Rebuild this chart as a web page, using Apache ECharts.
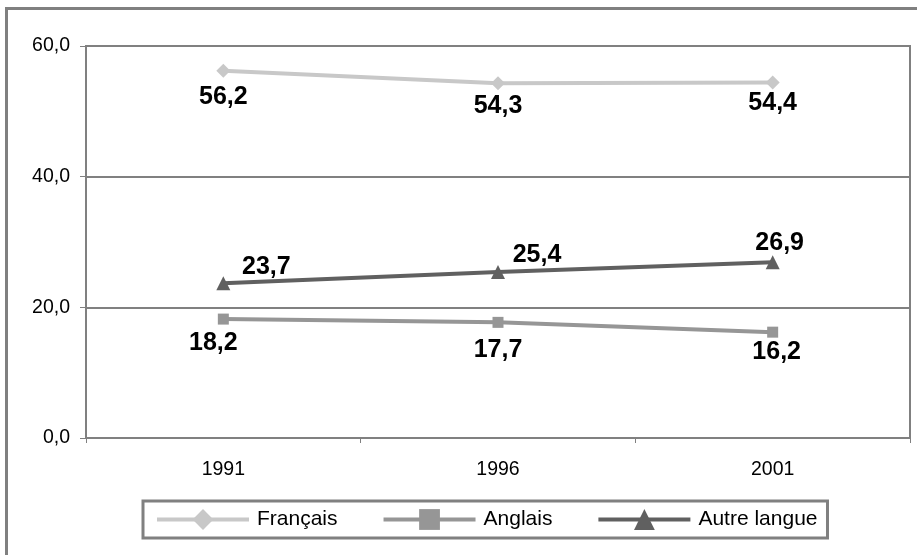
<!DOCTYPE html>
<html>
<head>
<meta charset="utf-8">
<script src="https://cdn.jsdelivr.net/npm/echarts@6/dist/echarts.min.js"></script>
<style>
  html, body { margin: 0; padding: 0; background: #ffffff; }
  #chart { width: 917px; height: 555px; }
</style>
</head>
<body>
<div id="chart"></div>
<script>
// Census years and share (%) of each language group
const years = ['1991', '1996', '2001'];
const francais = [56.2, 54.3, 54.4];
const anglais = [18.2, 17.7, 16.2];
const autreLangue = [23.7, 25.4, 26.9];
const seriesNames = ['Français', 'Anglais', 'Autre langue'];

const fmt = v => v.toFixed(1).replace('.', ',');
const FONT = '"Liberation Sans", Arial, sans-serif';

// Per-point label offsets, so each value sits beside its marker
const offsetsFr = [[0, 26], [0, 23], [0, 21]];
const offsetsAn = [[-10, 24], [0, 28], [4, 20]];
const offsetsAu = [[43, -16], [39, -17], [7, -19]];

function pointData(values, offsets) {
  return values.map((v, i) => ({
    value: v,
    label: { offset: offsets[i] }
  }));
}

const valueLabel = {
  show: true,
  position: 'inside',
  align: 'center',
  verticalAlign: 'middle',
  color: '#000000',
  fontFamily: FONT,
  fontWeight: 'bold',
  fontSize: 25,
  formatter: p => fmt(p.value)
};

const chart = echarts.init(document.getElementById('chart'), null, { renderer: 'canvas' });

chart.setOption({
  animation: false,
  backgroundColor: '#ffffff',
  graphic: [{
    type: 'rect',
    silent: true,
    z: -10,
    shape: { x: 6.5, y: 8.5, width: 930, height: 560 },
    style: { fill: 'none', stroke: '#808080', lineWidth: 3 }
  }],
  grid: {
    left: 86, right: 7, top: 46, bottom: 117,
    show: true,
    borderColor: '#808080',
    borderWidth: 2,
    backgroundColor: 'transparent'
  },
  legend: {
    data: seriesNames,
    left: 143,
    top: 501,
    padding: [8, 10, 8, 12],
    itemWidth: 92,
    itemHeight: 26,
    itemGap: 44,
    borderColor: '#808080',
    borderWidth: 3,
    backgroundColor: '#ffffff',
    lineStyle: { width: 4 },
    textStyle: { fontFamily: FONT, fontSize: 21, color: '#000000', padding: [3, 0, 0, 3] }
  },
  xAxis: {
    type: 'category',
    data: years,
    boundaryGap: true,
    axisLine: { lineStyle: { color: '#808080', width: 2 } },
    axisTick: { show: true, length: 5, lineStyle: { color: '#808080', width: 1 } },
    axisLabel: { color: '#000000', fontFamily: FONT, fontSize: 19.5, margin: 22 },
    splitLine: { show: false }
  },
  yAxis: {
    type: 'value',
    min: 0,
    max: 60,
    interval: 20,
    axisLine: { show: true, lineStyle: { color: '#808080', width: 2 } },
    axisTick: { show: true, length: 6, lineStyle: { color: '#808080', width: 1 } },
    axisLabel: { color: '#000000', fontFamily: FONT, fontSize: 19.5, margin: 16, formatter: v => fmt(v) },
    splitLine: { show: true, lineStyle: { color: '#808080', width: 2 } }
  },
  series: [
    {
      name: 'Français',
      type: 'line',
      data: pointData(francais, offsetsFr),
      symbol: 'diamond',
      symbolSize: 14,
      color: '#c8c8c8',
      lineStyle: { width: 4, color: '#c8c8c8' },
      itemStyle: { color: '#c8c8c8' },
      label: valueLabel
    },
    {
      name: 'Anglais',
      type: 'line',
      data: pointData(anglais, offsetsAn),
      symbol: 'rect',
      symbolSize: 11,
      color: '#969696',
      lineStyle: { width: 4, color: '#969696' },
      itemStyle: { color: '#969696' },
      label: valueLabel
    },
    {
      name: 'Autre langue',
      type: 'line',
      data: pointData(autreLangue, offsetsAu),
      symbol: 'triangle',
      symbolSize: 14,
      color: '#606060',
      lineStyle: { width: 4, color: '#606060' },
      itemStyle: { color: '#606060' },
      label: valueLabel
    }
  ]
});
</script>
</body>
</html>
